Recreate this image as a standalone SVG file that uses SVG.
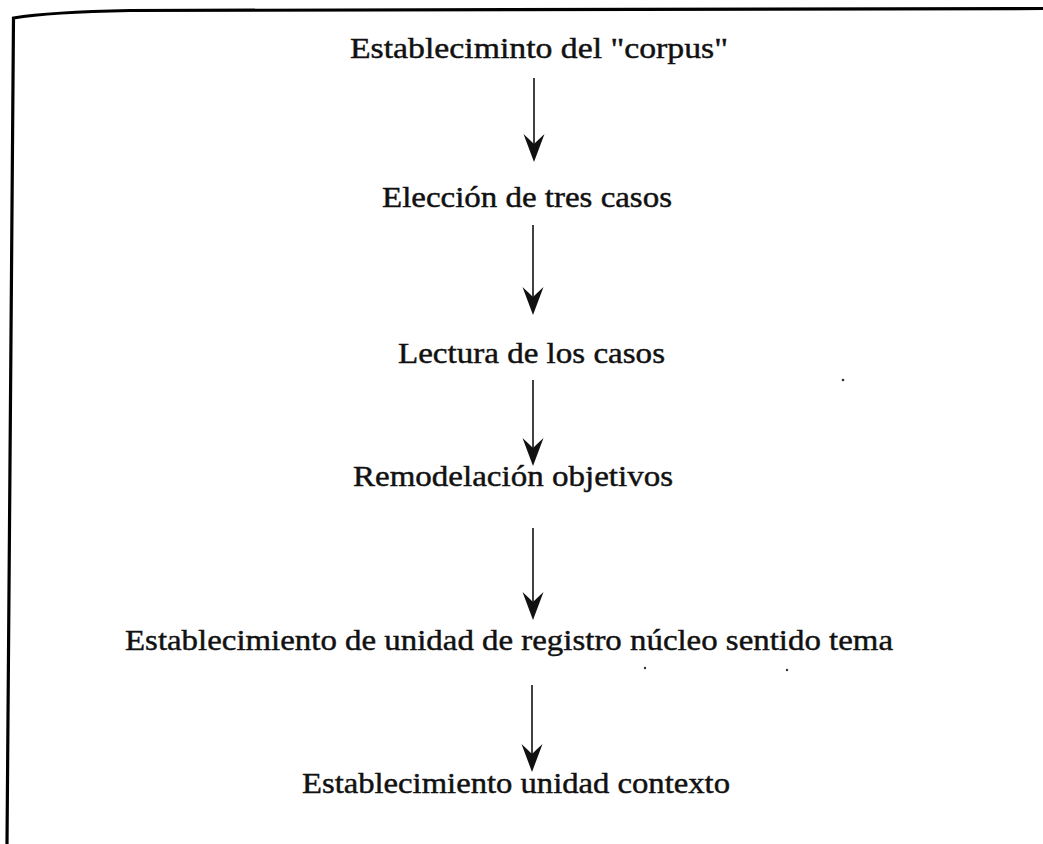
<svg xmlns="http://www.w3.org/2000/svg" width="1043" height="844" viewBox="0 0 1043 844">
  <defs>
    <style>
      .t { font-family: "Liberation Serif", "Times New Roman", serif; font-size: 30px; fill: #111; stroke: #111; stroke-width: 0.45; }
      .c { stroke: #111; stroke-width: 1.6; fill: none; }
      .frame { stroke: #000; stroke-width: 3.2; fill: none; }
      .dot { fill: #333; }
    </style>
    <marker id="ah" markerUnits="userSpaceOnUse" viewBox="0 -10 28 20" refX="10" refY="0" markerWidth="28" markerHeight="20" orient="auto" overflow="visible">
      <path d="M0,-10.5 Q6,-4 10,0 Q6,4 0,10.5 L28,0 Z" fill="#111"/>
    </marker>
  </defs>
  <rect width="1043" height="844" fill="#fff"/>
  <path class="frame" d="M7,844 L13.5,18 Q50,12 130,10.5 L1043,8.5"/>
  <g id="connectors">
    <line class="c" x1="534" y1="78" x2="534" y2="144" marker-end="url(#ah)"/>
    <line class="c" x1="533" y1="225" x2="533" y2="297" marker-end="url(#ah)"/>
    <line class="c" x1="533" y1="380" x2="533" y2="448" marker-end="url(#ah)"/>
    <line class="c" x1="533" y1="528" x2="533" y2="602" marker-end="url(#ah)"/>
    <line class="c" x1="532" y1="685" x2="532" y2="754" marker-end="url(#ah)"/>
  </g>
  <g id="n1"><text class="t" x="350" y="58" textLength="378" lengthAdjust="spacingAndGlyphs">Establecimintо del "corpus"</text></g>
  <g id="n2"><text class="t" x="382" y="207" textLength="290" lengthAdjust="spacingAndGlyphs">Elección de tres casos</text></g>
  <g id="n3"><text class="t" x="398" y="363" textLength="267" lengthAdjust="spacingAndGlyphs">Lectura de los casos</text></g>
  <g id="n4"><text class="t" x="353" y="486" textLength="320" lengthAdjust="spacingAndGlyphs">Remodelación objetivos</text></g>
  <g id="n5"><text class="t" x="125" y="650" textLength="768" lengthAdjust="spacingAndGlyphs">Establecimiento de unidad de registro núcleo sentido tema</text></g>
  <g id="n6"><text class="t" x="302" y="793" textLength="428" lengthAdjust="spacingAndGlyphs">Establecimiento unidad contexto</text></g>
  <g id="marks">
    <circle class="dot" cx="645" cy="668" r="1.2"/>
    <circle class="dot" cx="787" cy="670" r="1.2"/>
    <circle class="dot" cx="843" cy="380" r="1.3"/>
  </g>
</svg>
